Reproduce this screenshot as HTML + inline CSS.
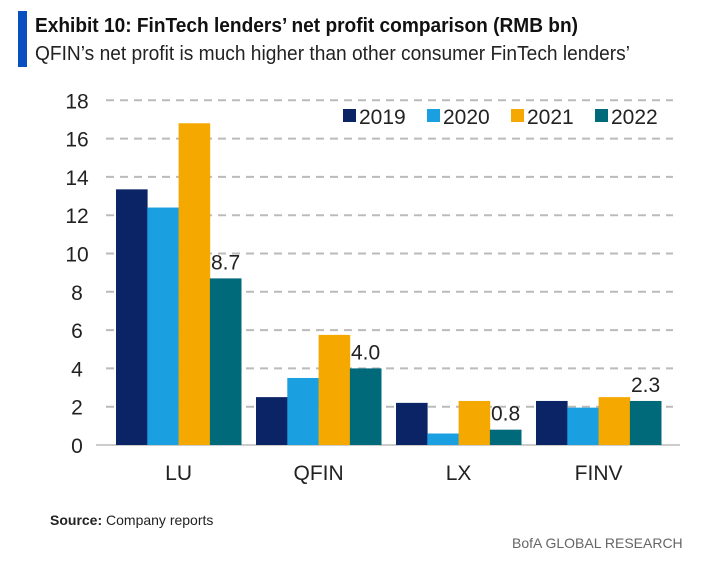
<!DOCTYPE html>
<html><head><meta charset="utf-8"><style>
body{margin:0;background:#fff;width:719px;height:560px;overflow:hidden;font-family:"Liberation Sans",sans-serif;}
</style></head><body>
<svg width="719" height="560">
<rect x="18" y="11" width="9" height="56" fill="#0a4fbf"/>
<text x="35" y="32" font-size="20" font-weight="bold" fill="#111" textLength="543" lengthAdjust="spacingAndGlyphs">Exhibit 10: FinTech lenders’ net profit comparison (RMB bn)</text>
<text x="35" y="60" font-size="20" fill="#222" textLength="595" lengthAdjust="spacingAndGlyphs">QFIN’s net profit is much higher than other consumer FinTech lenders’</text>
<g id="grid"></g><g id="bars"></g><g id="labels"></g>
<g id="legend"></g>
<text x="50" y="525" font-size="14" fill="#222"><tspan font-weight="bold">Source:</tspan> Company reports</text>
<text x="512" y="548" font-size="14" fill="#666">BofA GLOBAL RESEARCH</text>
</svg>
<script>
const categories=["LU","QFIN","LX","FINV"];
const years=["2019","2020","2021","2022"];
const s2019=[13.35,2.5,2.2,2.3];
const s2020=[12.4,3.5,0.6,1.95];
const s2021=[16.8,5.75,2.3,2.5];
const s2022=[8.7,4.0,0.8,2.3];
const labels2022=["8.7","4.0","0.8","2.3"];
const ticks=[0,2,4,6,8,10,12,14,16,18];
const colors=["#0b2466","#1a9fe0","#f5a800","#00697a"];
const series=[s2019,s2020,s2021,s2022];
const NS="http://www.w3.org/2000/svg";
const y0=445,unit=19.15,x0=96,groupW=140,barW=31.3,gOff=20;
const y=v=>y0-v*unit;
function mk(t,a,p){const e=document.createElementNS(NS,t);for(const k in a)e.setAttribute(k,a[k]);document.getElementById(p).appendChild(e);return e;}
ticks.forEach(t=>{
 if(t>0){const l=mk("line",{x1:106,x2:673,y1:y(t),y2:y(t),stroke:"#bbb","stroke-width":2,"stroke-dasharray":"8,6"},"grid");
 
 }
 const tx=mk("text",{x:77,y:y(t)+8,"font-size":21,fill:"#222","text-anchor":"middle"},"grid");tx.textContent=t;
 
 
});
const ax=mk("line",{x1:96,x2:680,y1:y0,y2:y0,stroke:"#999","stroke-width":1},"grid");


categories.forEach((c,i)=>{
 const gx=x0+i*groupW+gOff;
 series.forEach((s,j)=>{
  const r=mk("rect",{x:gx+j*barW,y:y(s[i]),width:barW+0.3,height:s[i]*unit,fill:colors[j]},"bars");
  
  
 });
 const lb=mk("text",{x:gx+3.5*barW,y:y(s2022[i])-9,"font-size":21,fill:"#222","text-anchor":"middle"},"labels");lb.textContent=labels2022[i];
 
 
 const cl=mk("text",{x:gx+2*barW,y:480,"font-size":21,fill:"#222","text-anchor":"middle"},"labels");cl.textContent=c;
 
 
});
const legX=[343,427,511,595];
years.forEach((yr,j)=>{
 const sq=mk("rect",{x:legX[j],y:109,width:13,height:13,fill:colors[j]},"legend");
 
 
 const t=mk("text",{x:legX[j]+16,y:124,"font-size":21,fill:"#222"},"legend");t.textContent=yr;
 
 
});
</script>
</body></html>
